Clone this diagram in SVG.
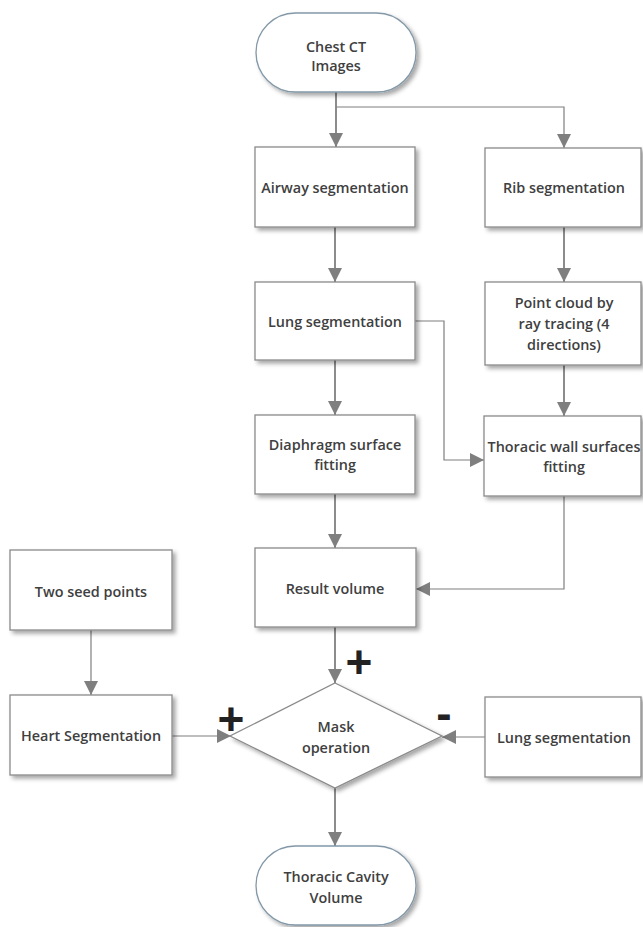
<svg xmlns="http://www.w3.org/2000/svg" width="643" height="927" viewBox="0 0 643 927">
<defs>
<filter id="sh" x="-10%" y="-10%" width="130%" height="140%">
<feDropShadow dx="3" dy="3" stdDeviation="2" flood-color="#000" flood-opacity="0.35"/>
</filter>
<marker id="ah" markerWidth="14" markerHeight="14" viewBox="0 0 14 14" refX="14" refY="7" orient="auto" markerUnits="userSpaceOnUse">
<path d="M0,0 L14,7 L0,14 Z" fill="#7f7f7f"/>
</marker>
<style>
.box{fill:#fff;stroke:#8a8a8a;stroke-width:1.3;filter:url(#sh)}
.term{fill:#fff;stroke:#8298a8;stroke-width:1.3;filter:url(#sh)}
.t{font-family:"Open Sans","Liberation Sans",sans-serif;font-weight:600;font-size:14.4px;fill:#404040;text-anchor:middle}
.c{fill:none;stroke:#7f7f7f;stroke-width:1.8}
.c2{fill:none;stroke:#7f7f7f;stroke-width:1.2}
.sign{font-family:"Liberation Sans",Arial,sans-serif;font-weight:bold;font-size:46px;fill:#222;text-anchor:middle}
</style>
</defs>
<g id="connectors">
<path class="c" d="M336,92 V147" marker-end="url(#ah)"/>
<path class="c2" d="M336,107 H564 V148" marker-end="url(#ah)"/>
<path class="c" d="M335,227 V282" marker-end="url(#ah)"/>
<path class="c" d="M564,227 V282" marker-end="url(#ah)"/>
<path class="c2" d="M415,321 H444 V460 H484" marker-end="url(#ah)"/>
<path class="c" d="M564,365 V416" marker-end="url(#ah)"/>
<path class="c" d="M335,360 V415" marker-end="url(#ah)"/>
<path class="c" d="M335,494 V548" marker-end="url(#ah)"/>
<path class="c2" d="M564,496 V589 H416" marker-end="url(#ah)"/>
<path class="c2" d="M91,630 V695" marker-end="url(#ah)"/>
<path class="c" d="M335,627 V683" marker-end="url(#ah)"/>
<path class="c2" d="M172,736 H231" marker-end="url(#ah)"/>
<path class="c2" d="M485,737 H442" marker-end="url(#ah)"/>
<path class="c" d="M335,788 V846" marker-end="url(#ah)"/>
</g>
<g id="chest-ct">
<rect class="term" x="256" y="13" width="160" height="79" rx="39.5"/>
<text class="t" x="336" y="52">Chest CT</text>
<text class="t" x="336" y="71">Images</text>
</g>
<g id="airway">
<rect class="box" x="255" y="147" width="160" height="80"/>
<text class="t" x="335" y="193">Airway segmentation</text>
</g>
<g id="rib">
<rect class="box" x="485" y="148" width="156" height="79"/>
<text class="t" x="564" y="193">Rib segmentation</text>
</g>
<g id="lung">
<rect class="box" x="255" y="282" width="160" height="78"/>
<text class="t" x="335" y="327">Lung segmentation</text>
</g>
<g id="point-cloud">
<rect class="box" x="485" y="282" width="156" height="83"/>
<text class="t" x="564" y="308">Point cloud by</text>
<text class="t" x="564" y="329">ray tracing (4</text>
<text class="t" x="564" y="350">directions)</text>
</g>
<g id="diaphragm">
<rect class="box" x="255" y="415" width="160" height="79"/>
<text class="t" x="335" y="450">Diaphragm surface</text>
<text class="t" x="335" y="470">fitting</text>
</g>
<g id="thoracic-wall">
<rect class="box" x="484" y="416" width="157" height="80"/>
<text class="t" x="564" y="452">Thoracic wall surfaces</text>
<text class="t" x="564" y="472">fitting</text>
</g>
<g id="result">
<rect class="box" x="255" y="548" width="161" height="79"/>
<text class="t" x="335" y="594">Result volume</text>
</g>
<g id="seed">
<rect class="box" x="10" y="550" width="162" height="80"/>
<text class="t" x="91" y="597">Two seed points</text>
</g>
<g id="heart">
<rect class="box" x="10" y="695" width="162" height="80"/>
<text class="t" x="91" y="741">Heart Segmentation</text>
</g>
<g id="mask">
<polygon class="box" points="335,683 442,736 335,788 230,736"/>
<text class="t" x="336" y="732">Mask</text>
<text class="t" x="336" y="753">operation</text>
</g>
<g id="lung-right">
<rect class="box" x="485" y="697" width="156" height="80"/>
<text class="t" x="564" y="743">Lung segmentation</text>
</g>
<g id="thoracic-cavity">
<rect class="term" x="256" y="846" width="160" height="79" rx="39.5"/>
<text class="t" x="336" y="882">Thoracic Cavity</text>
<text class="t" x="336" y="903">Volume</text>
</g>
<g id="signs">
<text class="sign" x="359" y="678">+</text>
<text class="sign" x="231" y="735">+</text>
<text class="sign" x="444" y="729">-</text>
</g>
</svg>
